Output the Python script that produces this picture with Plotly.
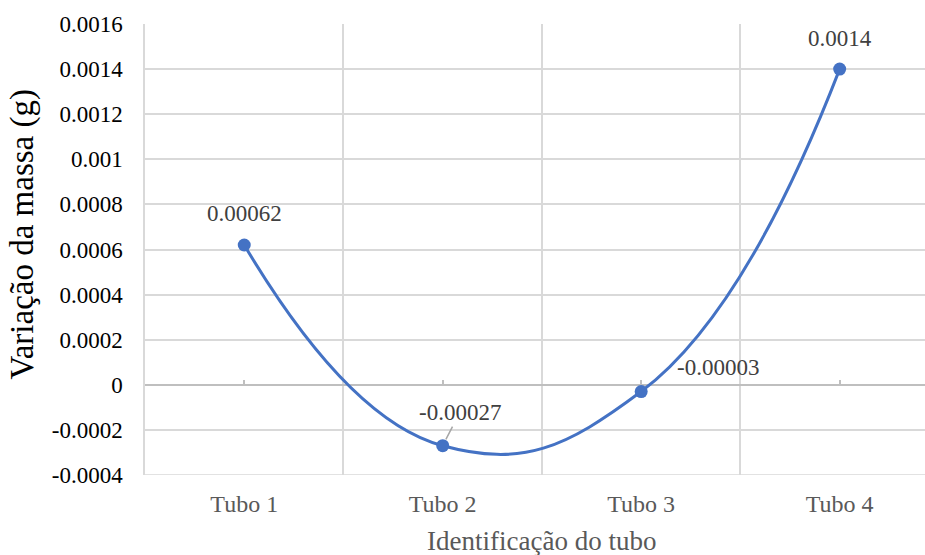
import plotly.graph_objects as go

# Mass change per tube
tubos = ["Tubo 1", "Tubo 2", "Tubo 3", "Tubo 4"]
variacao = [0.00062, -0.00027, -0.00003, 0.0014]
rotulos = ["0.00062", "-0.00027", "-0.00003", "0.0014"]

# Y axis ticks
y_ticks = [-0.0004, -0.0002, 0, 0.0002, 0.0004, 0.0006, 0.0008, 0.001,
           0.0012, 0.0014, 0.0016]
y_tick_text = ["-0.0004", "-0.0002", "0", "0.0002", "0.0004", "0.0006",
               "0.0008", "0.001", "0.0012", "0.0014", "0.0016"]

FONT = "Liberation Serif"
BLUE = "#4472C4"
GRID = "#d9d9d9"

xs = list(range(1, len(tubos) + 1))
boundaries = [x - 0.5 for x in xs] + [xs[-1] + 0.5]
y_min, y_max = y_ticks[0], y_ticks[-1]
x_range = [boundaries[0], boundaries[-1] - 0.07]

fig = go.Figure()
fig.add_trace(go.Scatter(
    x=xs, y=variacao,
    mode="lines+markers",
    line=dict(color=BLUE, width=3, shape="spline", smoothing=1.3),
    marker=dict(color=BLUE, size=13),
    hoverinfo="skip",
    showlegend=False,
))

# Data labels (offsets in pixels from each point)
offsets = [(0, 31, False), (17, 33, True), (77, 24, False), (0, 31, False)]
for x, y, txt, (dx, dy, arrow) in zip(xs, variacao, rotulos, offsets):
    if arrow:
        fig.add_annotation(
            x=x, y=y, xref="x", yref="y", text=txt,
            showarrow=True, arrowhead=0, arrowwidth=1.5, arrowcolor="#a6a6a6",
            ax=dx, ay=-dy, standoff=7,
            font=dict(family=FONT, size=23, color="#404040"),
        )
    else:
        fig.add_annotation(
            x=x, y=y, xref="x", yref="y", text=txt, showarrow=False,
            xshift=dx, yshift=dy,
            font=dict(family=FONT, size=23, color="#404040"),
        )

# X axis title, centred under the categories
fig.add_annotation(
    x=(boundaries[0] + boundaries[-1]) / 2, y=0, xref="x", yref="paper",
    yanchor="top", yshift=-49, text="Identificação do tubo", showarrow=False,
    font=dict(family=FONT, size=27, color="#595959"),
)

# Y axis title
fig.add_annotation(
    x=0, y=0.5, xref="paper", yref="paper", xanchor="center", yanchor="middle",
    xshift=-123, yshift=15, textangle=-90, text="Variação da massa (g)",
    showarrow=False, font=dict(family=FONT, size=33, color="#000000"),
)

fig.update_layout(
    width=925, height=555,
    margin=dict(l=145, r=0, t=24, b=80),
    paper_bgcolor="white", plot_bgcolor="white",
    font=dict(family=FONT),
    xaxis=dict(
        range=x_range,
        tickvals=xs, ticktext=tubos,
        tickfont=dict(family=FONT, size=24, color="#595959"),
        showgrid=False, zeroline=False, showline=False, ticks="",
        ticklabelstandoff=12,
        minor=dict(tickvals=boundaries, showgrid=True, gridcolor=GRID,
                   gridwidth=1.5, ticks=""),
    ),
    xaxis2=dict(
        overlaying="x", anchor="free", side="bottom",
        position=(0 - y_min) / (y_max - y_min),
        range=x_range,
        tickvals=xs, ticktext=["" for _ in xs],
        ticks="inside", ticklen=5, tickcolor="#bfbfbf", tickwidth=1.5,
        showgrid=False, zeroline=False, showline=False,
    ),
    yaxis=dict(
        range=[y_min, y_max],
        tickvals=y_ticks, ticktext=y_tick_text,
        tickfont=dict(family=FONT, size=23, color="#000000"),
        showgrid=True, gridcolor=GRID, gridwidth=1.5,
        zeroline=True, zerolinecolor="#bfbfbf", zerolinewidth=2,
        showline=True, linecolor=GRID, linewidth=1.5,
        ticks="", ticklabelstandoff=16,
    ),
)

# Bottom border of the plot area
fig.add_shape(type="line", xref="paper", yref="y", x0=0, x1=1,
              y0=y_min, y1=y_min, line=dict(color=GRID, width=1.5))

# Invisible trace on xaxis2 so its ticks are drawn
fig.add_trace(go.Scatter(x=[xs[0]], y=[None], xaxis="x2", showlegend=False,
                         hoverinfo="skip"))

fig.write_html("out.html")
